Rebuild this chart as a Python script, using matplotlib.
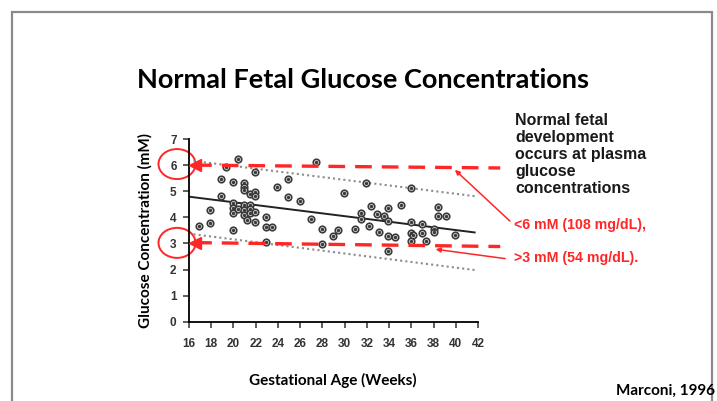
import matplotlib
matplotlib.use("Agg")
import matplotlib.pyplot as plt
from matplotlib.patches import Ellipse, Rectangle

# data (Marconi 1996)
weeks = [16.9, 17.9, 17.9, 18.9, 18.9, 19.3, 19.95, 19.95, 19.95, 19.95, 19.95,
         20.45, 20.45, 20.95, 20.95, 20.95, 20.95, 20.95, 20.95, 21.2,
         21.45, 21.45, 21.45, 21.45, 21.95, 21.95, 21.95, 21.95, 21.95,
         22.95, 22.95, 22.95, 23.5, 23.9, 24.95, 24.95, 25.95, 26.95, 27.4,
         27.95, 27.95, 28.95, 29.4, 29.95, 30.95, 31.5, 31.5, 31.95, 32.2,
         32.4, 32.95, 33.1, 33.5, 33.9, 33.9, 33.9, 33.9, 34.55, 35.1,
         35.95, 35.95, 35.95, 35.95, 36.15, 37.0, 37.0, 37.3, 38.0, 38.0,
         38.4, 38.4, 39.1, 39.95]
glucose = [3.68, 4.29, 3.78, 5.48, 4.81, 5.94, 5.34, 4.53, 4.37, 4.18, 3.52,
           6.22, 4.30, 5.33, 5.15, 5.04, 4.47, 4.28, 4.09, 3.90,
           4.89, 4.47, 4.30, 4.15, 5.75, 4.97, 4.81, 4.19, 3.82,
           4.02, 3.61, 3.07, 3.61, 5.15, 5.45, 4.79, 4.64, 3.92, 6.13,
           3.54, 2.98, 3.27, 3.51, 4.92, 3.54, 4.15, 3.95, 5.33, 3.67,
           4.43, 4.13, 3.42, 4.06, 4.37, 3.86, 3.30, 2.72, 3.26, 4.47,
           5.13, 3.83, 3.41, 3.10, 3.32, 3.73, 3.38, 3.10, 3.55, 3.42,
           4.38, 4.06, 4.06, 3.32]

fit_x = [16.0, 41.7]
fit_y = [4.79, 3.42]
upper_x = [16.4, 41.7]
upper_y = [6.16, 4.81]
lower_x = [16.4, 41.7]
lower_y = [3.35, 1.98]

limit_hi_x = [16.55, 44.0]
limit_hi_y = [6.0, 5.89]
limit_lo_x = [16.55, 44.0]
limit_lo_y = [3.03, 2.88]

xticks = list(range(16, 43, 2))
yticks = list(range(0, 8))

W, H = 717, 401
RED = "#ff2626"

fig = plt.figure(figsize=(W / 100, H / 100), dpi=100)
fig.patch.set_facecolor("white")
fig.patches.append(Rectangle((12 / W, -0.05), 700 / W, 1.05 - 12 / H, transform=fig.transFigure,
                             fill=False, edgecolor="#8a8a8a", lw=1.6))

ax = fig.add_axes([189 / W, 1 - 321.7 / H, 289 / W, 182.7 / H])
ax.set_xlim(16, 42)
ax.set_ylim(0, 7)
ax.spines["top"].set_visible(False)
ax.spines["right"].set_visible(False)
ax.spines["left"].set_linewidth(1.3)
ax.spines["bottom"].set_linewidth(1.3)
ax.set_xticks(xticks)
ax.set_yticks(yticks)
tick_font = dict(family="Liberation Sans", weight="bold", size=8.5)
ax.set_xticklabels([str(t) for t in xticks], fontdict=tick_font, color="#333333")
ax.set_yticklabels([str(t) for t in yticks], fontdict=tick_font, color="#333333")
ax.tick_params(length=4, width=1.1, color="#333333", pad=5)
ax.tick_params(axis="x", pad=8)

ax.plot(upper_x, upper_y, ls=(0, (1, 1.5)), color="#8c8c8c", lw=1.5)
ax.plot(lower_x, lower_y, ls=(0, (1, 1.5)), color="#8c8c8c", lw=1.5)
ax.plot(fit_x, fit_y, color="#222222", lw=1.4)
ax.scatter(weeks, glucose, s=22, facecolors="#e6e6e6", edgecolors="#3a3a3a", linewidths=1.2, zorder=3)
ax.scatter(weeks, glucose, s=2, color="#3a3a3a", zorder=4)

# red limits
for lx, ly in [(limit_hi_x, limit_hi_y), (limit_lo_x, limit_lo_y)]:
    ax.plot(lx, ly, color=RED, lw=2.4, ls=(0, (5, 3)), clip_on=False, zorder=5)
    ax.plot([lx[0]], [ly[0]], marker="<", color=RED, ms=9, clip_on=False, zorder=6)

for yc in [6.04, 3.02]:
    ax.add_patch(Ellipse((14.92, yc), 3.33, 1.15, fill=False, edgecolor=RED, lw=1.4, clip_on=False))

ax.annotate("", xy=(39.74, 5.89), xycoords="data", xytext=(512, H - 223), textcoords="figure pixels",
            arrowprops=dict(arrowstyle="-|>", color=RED, lw=1.1, mutation_scale=7), annotation_clip=False)
ax.annotate("", xy=(37.94, 2.79), xycoords="data", xytext=(508, H - 259), textcoords="figure pixels",
            arrowprops=dict(arrowstyle="-|>", color=RED, lw=1.1, mutation_scale=7), annotation_clip=False)

fig.text(363 / W, 1 - 80 / H, "Normal Fetal Glucose Concentrations", family="Lato", weight="bold",
         size=19.5, ha="center", va="center")
fig.text(515 / W, 1 - 113 / H, "Normal fetal\ndevelopment\noccurs at plasma\nglucose\nconcentrations",
         family="Liberation Sans", weight="bold", size=11.5, ha="left", va="top", linespacing=1.17,
         color="#1a1a1a")
fig.text(514 / W, 1 - 225 / H, "<6 mM (108 mg/dL),", family="Liberation Sans", weight="bold",
         size=10.2, color=RED, ha="left", va="center")
fig.text(514 / W, 1 - 258 / H, ">3 mM (54 mg/dL).", family="Liberation Sans", weight="bold",
         size=10.2, color=RED, ha="left", va="center")
fig.text(145 / W, 1 - 230 / H, "Glucose Concentration (mM)", family="Lato", weight="bold",
         size=11, rotation=90, ha="center", va="center")
fig.text(333 / W, 1 - 380 / H, "Gestational Age (Weeks)", family="Lato", weight="bold",
         size=11, ha="center", va="center")
fig.text(666 / W, 1 - 391 / H, "Marconi, 1996", family="Lato", weight="bold",
         size=11, ha="center", va="center")

fig.savefig("out.png", dpi=100)
